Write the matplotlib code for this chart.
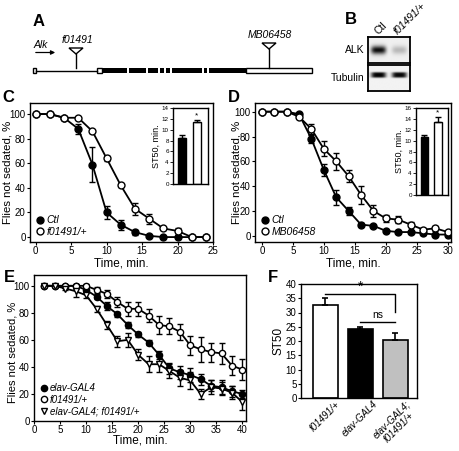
import numpy as np
import matplotlib.pyplot as plt
from matplotlib.lines import Line2D
from matplotlib.patches import Rectangle, Polygon

plt.rcParams['font.family'] = ['Liberation Sans', 'DejaVu Sans']

# Painel A - estrutura do gene Alk (posições em pixels do esquema)
alk_utr5 = [(33, 36), (97, 102)]
alk_exons = [(102, 127), (129, 146), (148, 158), (160, 164), (166, 170),
             (172, 202), (204, 207), (209, 246)]
alk_utr3 = (246, 312)
insercoes_nomes = ['f01491', 'MB06458']
insercoes_pos = [76, 269]

# Painel B - intensidade das bandas (Ctl, f01491/+)
blot_lanes = ['Ctl', 'f01491/+']
alk_bandas = [0.9, 0.22]
tubulina_bandas = [0.95, 0.92]

# Painel C
tempo_c = [0, 2, 4, 6, 8, 10, 12, 14, 16, 18, 20, 22, 24]
ctl_c = [100, 100, 97, 88, 59, 20, 10, 4, 1, 0, 0, 0, 0]
ctl_c_err = [0, 0, 1, 4, 14, 5, 4, 2, 1, 0, 0, 0, 0]
f01491_c = [100, 100, 97, 97, 86, 64, 42, 23, 15, 7, 5, 0, 0]
f01491_c_err = [0, 0, 1, 1, 1, 2, 1, 5, 4, 1, 2, 0, 0]
st50_c = [8.5, 11.5]
st50_c_err = [0.45, 0.3]

# Painel D
tempo_d = [0, 2, 4, 6, 8, 10, 12, 14, 16, 18, 20, 22, 24, 26, 28, 30]
ctl_d = [100, 100, 100, 98, 78, 53, 31, 20, 9, 8, 4, 3, 3, 2, 1, 1]
ctl_d_err = [0, 0, 0, 1, 3, 5, 6, 3, 1, 1, 1, 1, 1, 1, 1, 1]
mb_d = [100, 100, 100, 96, 86, 70, 60, 48, 33, 20, 14, 13, 9, 5, 6, 3]
mb_d_err = [0, 0, 0, 1, 4, 6, 7, 5, 7, 5, 3, 3, 2, 1, 2, 1]
st50_d = [10.6, 13.5]
st50_d_err = [0.4, 0.8]

# Painel E
tempo_e = [2, 4, 6, 8, 10, 12, 14, 16, 18, 20, 22, 24, 26, 28, 30, 32, 34, 36, 38, 40]
elav_e = [100, 100, 100, 100, 97, 92, 85, 79, 71, 64, 58, 49, 39, 36, 34, 31, 26, 25, 22, 20]
elav_e_err = [0, 0, 0, 1, 1, 2, 3, 2, 2, 2, 2, 3, 4, 5, 5, 4, 4, 5, 4, 3]
f01491_e = [100, 100, 100, 100, 100, 97, 94, 88, 83, 83, 78, 71, 70, 66, 56, 53, 51, 50, 41, 38]
f01491_e_err = [0, 0, 0, 0, 1, 2, 3, 4, 5, 5, 5, 7, 6, 6, 7, 9, 7, 8, 7, 8]
combo_e = [100, 100, 98, 96, 93, 83, 71, 59, 60, 49, 42, 42, 37, 32, 30, 20, 25, 24, 21, 14]
combo_e_err = [0, 0, 1, 4, 2, 2, 3, 4, 5, 4, 6, 6, 5, 6, 6, 4, 5, 5, 5, 6]

# Painel F
genotipos_f = ['f01491/+', 'elav-GAL4', 'elav-GAL4;\nf01491/+']
st50_f = [32.6, 24.2, 20.2]
st50_f_err = [2.6, 0.7, 2.5]
cores_f = ['white', 'black', '#c0c0c0']

W, H = 459, 451


def caixa(l, t, r, b):
    return [l / W, 1 - b / H, (r - l) / W, (b - t) / H]


def estilo(ax, size=7):
    for s in ax.spines.values():
        s.set_linewidth(1)
    ax.tick_params(labelsize=size, length=2.2, width=0.8, direction='out', pad=1)


def curva(ax, x, y, err, marker, face, ms=5):
    ax.errorbar(x, y, yerr=err, fmt='-', marker=marker, color='black', mfc=face, mec='black',
                ms=ms, lw=1.3, elinewidth=1, capsize=2.5, capthick=1, mew=1)


def legenda(ax, labels, markers, faces, ms=5, size=7.5):
    hs = [Line2D([], [], marker=m, ls='none', mfc=f, mec='black', mew=1, ms=ms, label=l)
          for l, m, f in zip(labels, markers, faces)]
    ax.legend(handles=hs, loc='lower left', frameon=False, prop={'style': 'italic', 'size': size},
              handletextpad=0.1, borderaxespad=0.2, labelspacing=0.15, handlelength=1.0,
              borderpad=0.3)


def inset(ax_box, vals, errs, ymax, fig):
    ax = fig.add_axes(ax_box)
    ax.bar([0, 1], vals, width=0.57, color=['black', 'white'], edgecolor='black', lw=1)
    ax.errorbar([0, 1], vals, yerr=[[0, 0], errs], fmt='none', ecolor='black', elinewidth=1,
                capsize=2, capthick=1)
    ax.text(1, vals[1] + errs[1] + ymax * 0.01, '*', ha='center', va='bottom', fontsize=6)
    ax.set_ylim(0, ymax)
    ax.set_yticks(range(0, ymax + 1, 2))
    ax.set_xlim(-0.62, 1.75)
    ax.set_xticks([])
    ax.set_ylabel('ST50, min.', fontsize=6.5, labelpad=1)
    for s in ax.spines.values():
        s.set_linewidth(1)
    ax.tick_params(labelsize=4.5, length=2, width=0.6, pad=1)
    return ax


fig = plt.figure(figsize=(W / 100, H / 100), dpi=100)

# ---------- A ----------
ax_a = fig.add_axes(caixa(0, 0, 330, 90))
ax_a.set_xlim(0, 330)
ax_a.set_ylim(90, 0)
ax_a.axis('off')
yg = 70.5
ax_a.plot([alk_utr5[0][1], alk_utr5[1][0]], [yg, yg], color='black', lw=1)
for a, b in alk_utr5:
    ax_a.add_patch(Rectangle((a, yg - 2.5), b - a, 5, fc='white', ec='black', lw=1))
for a, b in alk_exons:
    ax_a.add_patch(Rectangle((a, yg - 2.5), b - a, 5, fc='black', ec='none'))
ax_a.add_patch(Rectangle((alk_utr3[0], yg - 2.5), alk_utr3[1] - alk_utr3[0], 5,
                         fc='white', ec='black', lw=1))
topos = [48, 43]
for nome, xp, tp in zip(insercoes_nomes, insercoes_pos, topos):
    ax_a.add_patch(Polygon([(xp - 7, tp), (xp + 7, tp), (xp, tp + 6)], closed=True,
                           fc='white', ec='black', lw=1))
    ax_a.plot([xp, xp], [tp + 6, yg - 2.5], color='black', lw=1)
    ax_a.text(xp + 1, tp - 3, nome, ha='center', va='bottom', fontsize=7.5, style='italic')
ax_a.text(34, 50, 'Alk', ha='left', va='bottom', fontsize=7.5, style='italic')
ax_a.annotate('', xy=(58, 52.5), xytext=(33, 52.5),
              arrowprops=dict(arrowstyle='-|>', color='black', lw=0.9, mutation_scale=6))

# ---------- B ----------
yy, xx = np.mgrid[0:1:60j, 0:2:100j]
img_alk = np.full(xx.shape, 0.06)
img_tub = np.full(xx.shape, 0.05)
for i in range(2):
    fx = np.exp(-((xx - (0.5 + i)) / 0.36) ** 4)
    img_alk += alk_bandas[i] * fx * np.exp(-((yy - 0.5) / 0.16) ** 2)
    img_tub += tubulina_bandas[i] * fx * np.exp(-((yy - 0.38) / 0.11) ** 4)
for arr, (t, b), nome in [(img_alk, (37, 63), 'ALK'), (img_tub, (65, 91), 'Tubulin')]:
    ax_b = fig.add_axes(caixa(368, t, 410, b))
    ax_b.imshow(np.clip(arr, 0, 1), cmap='gray_r', vmin=0, vmax=1, aspect='auto',
                extent=[0, 2, 1, 0], interpolation='bilinear')
    ax_b.set_xticks([])
    ax_b.set_yticks([])
    for s in ax_b.spines.values():
        s.set_linewidth(1.3)
    fig.text(364 / W, 1 - (t + b) / 2 / H, nome, ha='right', va='center', fontsize=7.5)
fig.text(373 / W, 1 - 36 / H, blot_lanes[0], rotation=45, ha='left', va='bottom', fontsize=7.5)
fig.text(392 / W, 1 - 36 / H, blot_lanes[1], rotation=45, ha='left', va='bottom', fontsize=7.5,
         style='italic')

# ---------- C ----------
ax_c = fig.add_axes(caixa(30, 103, 213, 242))
curva(ax_c, tempo_c, ctl_c, ctl_c_err, 'o', 'black')
curva(ax_c, tempo_c, f01491_c, f01491_c_err, 'o', 'white')
ax_c.set_xlim(-0.8, 25)
ax_c.set_ylim(-4, 109)
ax_c.set_xticks(range(0, 26, 5))
ax_c.set_yticks(range(0, 101, 20))
ax_c.set_xlabel('Time, min.', fontsize=8.5, labelpad=1)
ax_c.set_ylabel('Flies not sedated, %', fontsize=8.2)
ax_c.yaxis.set_label_coords(-0.093, 0.5)
estilo(ax_c)
legenda(ax_c, ['Ctl', 'f01491/+'], ['o', 'o'], ['black', 'white'])
inset(caixa(173, 108, 208, 184), st50_c, st50_c_err, 14, fig)

# ---------- D ----------
ax_d = fig.add_axes(caixa(255, 103, 451, 242))
curva(ax_d, tempo_d, ctl_d, ctl_d_err, 'o', 'black')
curva(ax_d, tempo_d, mb_d, mb_d_err, 'o', 'white')
ax_d.set_xlim(-1.1, 30.5)
ax_d.set_ylim(-5, 107)
ax_d.set_xticks(range(0, 31, 5))
ax_d.set_yticks(range(0, 101, 20))
ax_d.set_xlabel('Time, min.', fontsize=8.5, labelpad=1)
ax_d.set_ylabel('Flies not sedated, %', fontsize=8.2)
ax_d.yaxis.set_label_coords(-0.071, 0.5)
estilo(ax_d)
legenda(ax_d, ['Ctl', 'MB06458'], ['o', 'o'], ['black', 'white'])
inset(caixa(416, 108, 448, 195), st50_d, st50_d_err, 16, fig)

# ---------- E ----------
ax_e = fig.add_axes(caixa(34, 275, 246, 421))
curva(ax_e, tempo_e, elav_e, elav_e_err, 'o', 'black', ms=4.5)
curva(ax_e, tempo_e, f01491_e, f01491_e_err, 'o', 'white', ms=4.5)
curva(ax_e, tempo_e, combo_e, combo_e_err, 'v', 'white', ms=5)
ax_e.set_xlim(0, 40.7)
ax_e.set_ylim(0, 108)
ax_e.set_xticks(range(0, 41, 5))
ax_e.set_yticks(range(0, 101, 20))
ax_e.set_xlabel('Time, min.', fontsize=8.5, labelpad=-0.5)
ax_e.set_ylabel('Flies not sedated, %', fontsize=8)
ax_e.yaxis.set_label_coords(-0.078, 0.47)
estilo(ax_e)
legenda(ax_e, ['elav-GAL4', 'f01491/+', 'elav-GAL4; f01491/+'], ['o', 'o', 'v'],
        ['black', 'white', 'white'], ms=4.5, size=7)

# ---------- F ----------
ax_f = fig.add_axes(caixa(301, 284, 417, 398))
pos_f = np.arange(len(genotipos_f))
ax_f.bar(pos_f, st50_f, width=0.72, color=cores_f, edgecolor='black', lw=1.2)
ax_f.errorbar(pos_f, st50_f, yerr=[[0] * 3, st50_f_err], fmt='none', ecolor='black',
              elinewidth=1.2, capsize=2.5, capthick=1.2)
ax_f.plot([0, 2, 2], [36.6, 36.6, 30.2], color='black', lw=1)
ax_f.text(1, 36.4, '*', ha='center', va='bottom', fontsize=10)
ax_f.plot([1, 2], [26.6, 26.6], color='black', lw=1)
ax_f.text(1.5, 27.3, 'ns', ha='center', va='bottom', fontsize=7.5)
ax_f.set_xlim(-0.7, 2.63)
ax_f.set_ylim(0, 40)
ax_f.set_yticks(range(0, 41, 5))
ax_f.set_xticks(pos_f)
ax_f.set_xticklabels(genotipos_f, rotation=45, ha='center', fontsize=6.5, style='italic',
                     linespacing=1.0)
ax_f.set_ylabel('ST50', fontsize=8.5)
ax_f.yaxis.set_label_coords(-0.145, 0.5)
estilo(ax_f)
ax_f.tick_params(axis='x', length=0, pad=1)

# letras dos painéis
for letra, x, y in [('A', 33, 22), ('B', 345, 20), ('C', 2, 97), ('D', 228, 97),
                    ('E', 4, 277), ('F', 268, 278)]:
    fig.text(x / W, 1 - y / H, letra, fontsize=12, fontweight='bold', ha='left', va='center')

fig.savefig('out.png', dpi=100)
